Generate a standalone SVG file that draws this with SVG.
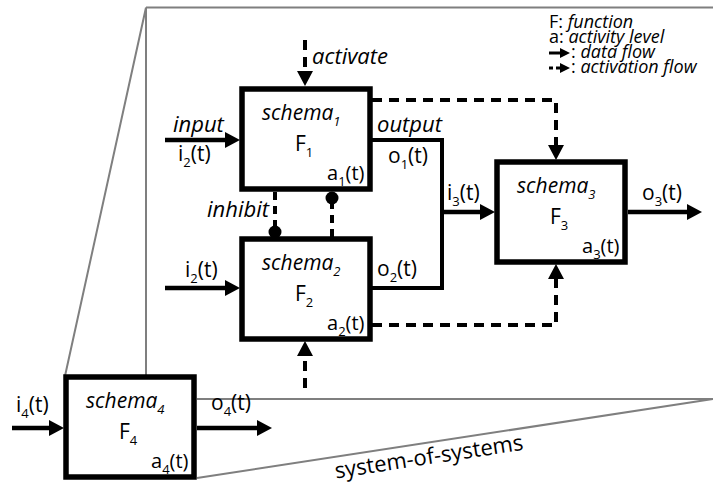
<svg xmlns="http://www.w3.org/2000/svg" width="713" height="485" viewBox="0 0 713 485">
<style>
text{font-family:"Open Sans","Noto Sans",sans-serif;font-size:21px;fill:#000}
.it{font-style:italic;font-size:22px}
.sch{font-style:italic;font-size:21px}
.F{font-size:21px}
.a{font-size:20px}
.sub{font-size:13px}
.lg{font-size:18px}
.lgi{font-style:italic}
.sos{font-size:22px}
.box{fill:#fff;stroke:#000;stroke-width:5.5}
.frame{fill:none;stroke:#7f7f7f;stroke-width:2}
.data{fill:none;stroke:#000;stroke-width:4.5}
.wire{fill:none;stroke:#000;stroke-width:4;stroke-linejoin:miter}
.act{fill:none;stroke:#000;stroke-width:4;stroke-dasharray:10 7}
.inh{fill:none;stroke:#000;stroke-width:4;stroke-dasharray:8 6}
</style>
<defs>
<marker id="ah" markerUnits="userSpaceOnUse" markerWidth="15" markerHeight="16" refX="9" refY="8" orient="auto">
<path d="M0,0 L15,8 L0,16 z" fill="#000"/>
</marker>
<marker id="ahs" markerUnits="userSpaceOnUse" markerWidth="10" markerHeight="10" refX="5" refY="5" orient="auto">
<path d="M0,0 L10,5 L0,10 z" fill="#000"/>
</marker>
</defs>

<g id="frame">
<path class="frame" d="M146,7.5 H713 M146,7.5 V377 M146,7.5 L65,376 M197,399 H713 M197,478 L713,399"/>
<text class="sos" transform="rotate(-8.7 430 464)" x="430" y="464" text-anchor="middle">system-of-systems</text>
</g>

<g id="connectors">
<path class="data" d="M165,140 H234" marker-end="url(#ah)"/>
<path class="data" d="M165,288 H234" marker-end="url(#ah)"/>
<path class="wire" d="M370,140 H442 V288 H370"/>
<path class="data" d="M442,212 H489" marker-end="url(#ah)"/>
<path class="data" d="M628,212 H696" marker-end="url(#ah)"/>
<path class="data" d="M12,428 H58" marker-end="url(#ah)"/>
<path class="data" d="M197,428 H266" marker-end="url(#ah)"/>
<path class="act" d="M305,40 V80" marker-end="url(#ah)"/>
<path class="act" d="M372,100 H556 V154" marker-end="url(#ah)"/>
<path class="act" d="M305,388 V347" marker-end="url(#ah)"/>
<path class="act" d="M372,325 H556 V270" marker-end="url(#ah)"/>
<path class="inh" d="M275,192 V232"/>
<circle cx="275" cy="232" r="6.5" fill="#000"/>
<path class="inh" d="M332,237 V198"/>
<circle cx="332" cy="198" r="6.5" fill="#000"/>
<text class="it" x="312" y="64">activate</text>
<text class="it" x="173" y="132">input</text>
<text x="178" y="161">i<tspan class="sub" dy="6">2</tspan><tspan dy="-6">(t)</tspan></text>
<text class="it" x="377" y="132">output</text>
<text x="388" y="163">o<tspan class="sub" dy="6">1</tspan><tspan dy="-6">(t)</tspan></text>
<text x="447" y="200">i<tspan class="sub" dy="6">3</tspan><tspan dy="-6">(t)</tspan></text>
<text class="it" x="207" y="217">inhibit</text>
<text x="185" y="277">i<tspan class="sub" dy="6">2</tspan><tspan dy="-6">(t)</tspan></text>
<text x="377" y="276">o<tspan class="sub" dy="6">2</tspan><tspan dy="-6">(t)</tspan></text>
<text x="642" y="200">o<tspan class="sub" dy="6">3</tspan><tspan dy="-6">(t)</tspan></text>
<text x="16" y="412">i<tspan class="sub" dy="6">4</tspan><tspan dy="-6">(t)</tspan></text>
<text x="211" y="410">o<tspan class="sub" dy="6">4</tspan><tspan dy="-6">(t)</tspan></text>
</g>

<g id="schema1">
<rect class="box" x="242" y="89" width="128" height="100"/>
<text class="sch" x="262" y="120">schema<tspan class="sub" dy="6">1</tspan></text>
<text class="F" x="295" y="151">F<tspan class="sub" dy="6">1</tspan></text>
<text class="a" x="327" y="180">a<tspan class="sub" dy="6">1</tspan><tspan dy="-6">(t)</tspan></text>
</g>

<g id="schema2">
<rect class="box" x="242" y="239" width="128" height="100"/>
<text class="sch" x="262" y="270">schema<tspan class="sub" dy="6">2</tspan></text>
<text class="F" x="295" y="301">F<tspan class="sub" dy="6">2</tspan></text>
<text class="a" x="327" y="330">a<tspan class="sub" dy="6">2</tspan><tspan dy="-6">(t)</tspan></text>
</g>

<g id="schema3">
<rect class="box" x="497" y="162" width="128" height="100"/>
<text class="sch" x="517" y="193">schema<tspan class="sub" dy="6">3</tspan></text>
<text class="F" x="550" y="224">F<tspan class="sub" dy="6">3</tspan></text>
<text class="a" x="582" y="253">a<tspan class="sub" dy="6">3</tspan><tspan dy="-6">(t)</tspan></text>
</g>

<g id="schema4">
<rect class="box" x="66" y="377" width="128" height="100"/>
<text class="sch" x="86" y="408">schema<tspan class="sub" dy="6">4</tspan></text>
<text class="F" x="119" y="439">F<tspan class="sub" dy="6">4</tspan></text>
<text class="a" x="151" y="468">a<tspan class="sub" dy="6">4</tspan><tspan dy="-6">(t)</tspan></text>
</g>

<g id="legend">
<text class="lg" x="549" y="28">F: <tspan class="lgi">function</tspan></text>
<text class="lg" x="549" y="43">a: <tspan class="lgi">activity level</tspan></text>
<path d="M549,53 H565" stroke="#000" stroke-width="3" marker-end="url(#ahs)"/>
<text class="lg" x="571" y="58">: <tspan class="lgi">data flow</tspan></text>
<path d="M549,68 H565" stroke="#000" stroke-width="3" stroke-dasharray="4 3" marker-end="url(#ahs)"/>
<text class="lg" x="571" y="73">: <tspan class="lgi">activation flow</tspan></text>
</g>
</svg>
